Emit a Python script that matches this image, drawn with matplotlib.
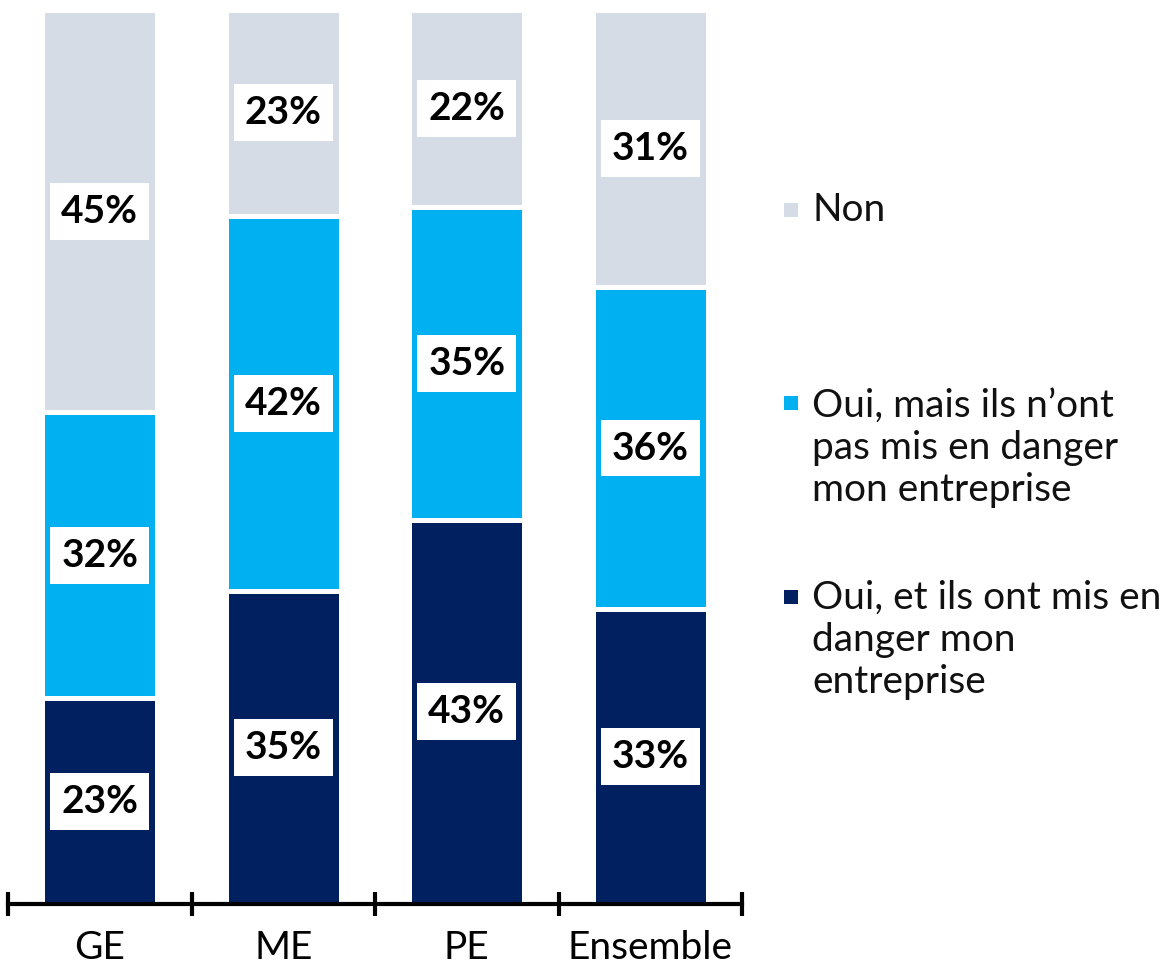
import matplotlib
matplotlib.use("Agg")
import matplotlib.pyplot as plt
from matplotlib.patches import Rectangle
import numpy as np

plt.rcParams['font.family'] = ['Lato', 'DejaVu Sans']

categories = ["GE", "ME", "PE", "Ensemble"]
series_names = ["Oui, et ils ont mis en\ndanger mon\nentreprise",
                "Oui, mais ils n\u2019ont\npas mis en danger\nmon entreprise",
                "Non"]
danger = [23, 35, 43, 33]
pas_danger = [32, 42, 35, 36]
non = [45, 23, 22, 31]
values = [danger, pas_danger, non]
colors = ["#002060", "#00B0F0", "#D6DCE5"]

fig = plt.figure(figsize=(11.7, 9.68), dpi=100)
ax = fig.add_axes([8/1170, 1-904/968, (742-8)/1170, (904-10)/968])

x = np.arange(len(categories))
bottom = np.zeros(len(categories))
for vals, col in zip(values, colors):
    ax.bar(x, vals, width=0.625, bottom=bottom, color=col,
           edgecolor="white", linewidth=3.6, zorder=2)
    for xi, b, v in zip(x, bottom, vals):
        ax.text(xi, b + v/2, f"{v}%", ha="center", va="center",
                fontsize=28, fontweight="bold", color="black", zorder=3,
                bbox=dict(boxstyle="square,pad=0.28", fc="white", ec="none"))
    bottom += np.array(vals)

ax.set_xlim(-0.5, len(categories)-0.5)
ax.set_ylim(0, 100)
for s in ["top", "right", "left"]:
    ax.spines[s].set_visible(False)
ax.spines["bottom"].set_linewidth(3)
ax.spines["bottom"].set_zorder(4)
ax.set_yticks([])
ax.set_xticks(np.arange(len(categories)+1) - 0.5)
ax.set_xticklabels([])
ax.tick_params(axis="x", which="major", direction="inout", length=17, width=3)
ax.set_xticks(x, minor=True)
ax.set_xticklabels(categories, minor=True, fontsize=28)
ax.tick_params(axis="x", which="minor", length=0, pad=19)

# legend (manual layout)
leg_y = [640, 448, 210]   # pixel centers of each entry text block
line_first = [597, 403, 210]
for name, col, yc, yf in zip(series_names, colors, leg_y, line_first):
    fig.text(812/1170, 1-yc/968, name, ha="left", va="center",
             fontsize=28, color="#111111", linespacing=1.22)
    fig.add_artist(Rectangle((784/1170, 1-(yf+7)/968), 14/1170, 14/968,
                             transform=fig.transFigure, facecolor=col,
                             edgecolor="none"))

fig.savefig("out.png", dpi=100)
